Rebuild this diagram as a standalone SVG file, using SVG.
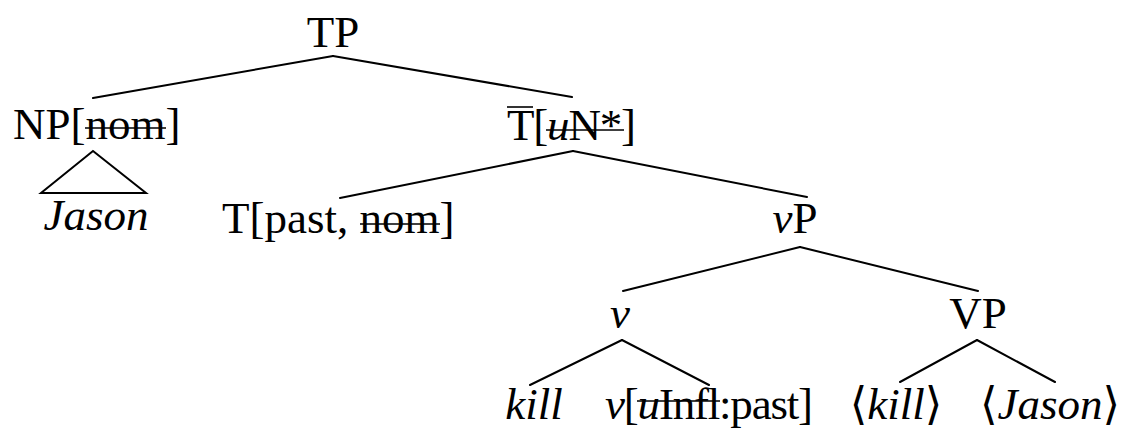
<svg xmlns="http://www.w3.org/2000/svg" width="1141" height="432" viewBox="0 0 1141 432">
<style>
text{font-family:"Liberation Serif","DejaVu Serif",serif;font-size:45px;fill:#000}
.i{font-style:italic}
.e{stroke:#000;stroke-width:2;fill:none;stroke-linecap:round}
.s{stroke:#000;stroke-width:1.6}
</style>
<rect width="1141" height="432" fill="#fff"/>
<g id="connectors">
<line class="e" x1="333" y1="56" x2="93" y2="98"/>
<line class="e" x1="333" y1="56" x2="572" y2="97"/>
<polygon class="e" points="93,151 41,193 146,193"/>
<line class="e" x1="573" y1="151" x2="340" y2="198"/>
<line class="e" x1="573" y1="151" x2="807" y2="197"/>
<line class="e" x1="800" y1="247" x2="623" y2="291"/>
<line class="e" x1="800" y1="247" x2="978" y2="291"/>
<line class="e" x1="622" y1="340" x2="530" y2="385"/>
<line class="e" x1="622" y1="340" x2="709" y2="385"/>
<line class="e" x1="977" y1="340" x2="900" y2="382"/>
<line class="e" x1="977" y1="340" x2="1055" y2="382"/>
</g>
<g id="TP"><text x="333" y="47" text-anchor="middle">TP</text></g>
<g id="NP"><text x="13" y="139">NP[nom]</text><line class="s" x1="85" y1="128" x2="166" y2="128"/></g>
<g id="Jason"><text class="i" x="96" y="230" text-anchor="middle">Jason</text></g>
<g id="Tbar"><text x="507" y="140" letter-spacing="-1.2">T[<tspan class="i">u</tspan>N*]</text><line class="s" x1="507" y1="107" x2="533" y2="107"/><line class="s" x1="546" y1="130" x2="624" y2="130"/></g>
<g id="T"><text x="222" y="233">T[past, nom]</text><line class="s" x1="360" y1="224" x2="440" y2="224"/></g>
<g id="vP"><text x="795" y="233" text-anchor="middle"><tspan class="i">v</tspan>P</text></g>
<g id="v"><text class="i" x="620" y="328" text-anchor="middle">v</text></g>
<g id="VP"><text x="978" y="328" text-anchor="middle">VP</text></g>
<g id="kill"><text class="i" x="534" y="419" text-anchor="middle">kill</text></g>
<g id="vInfl"><text x="605" y="419" letter-spacing="-1.2"><tspan class="i">v</tspan>[<tspan class="i">u</tspan>Infl:past]</text><line class="s" x1="637" y1="401" x2="720" y2="401"/></g>
<g id="kill2"><text x="896" y="419" text-anchor="middle">⟨<tspan class="i">kill</tspan>⟩</text></g>
<g id="Jason2"><text x="1050" y="419" text-anchor="middle">⟨<tspan class="i">Jason</tspan>⟩</text></g>
</svg>
